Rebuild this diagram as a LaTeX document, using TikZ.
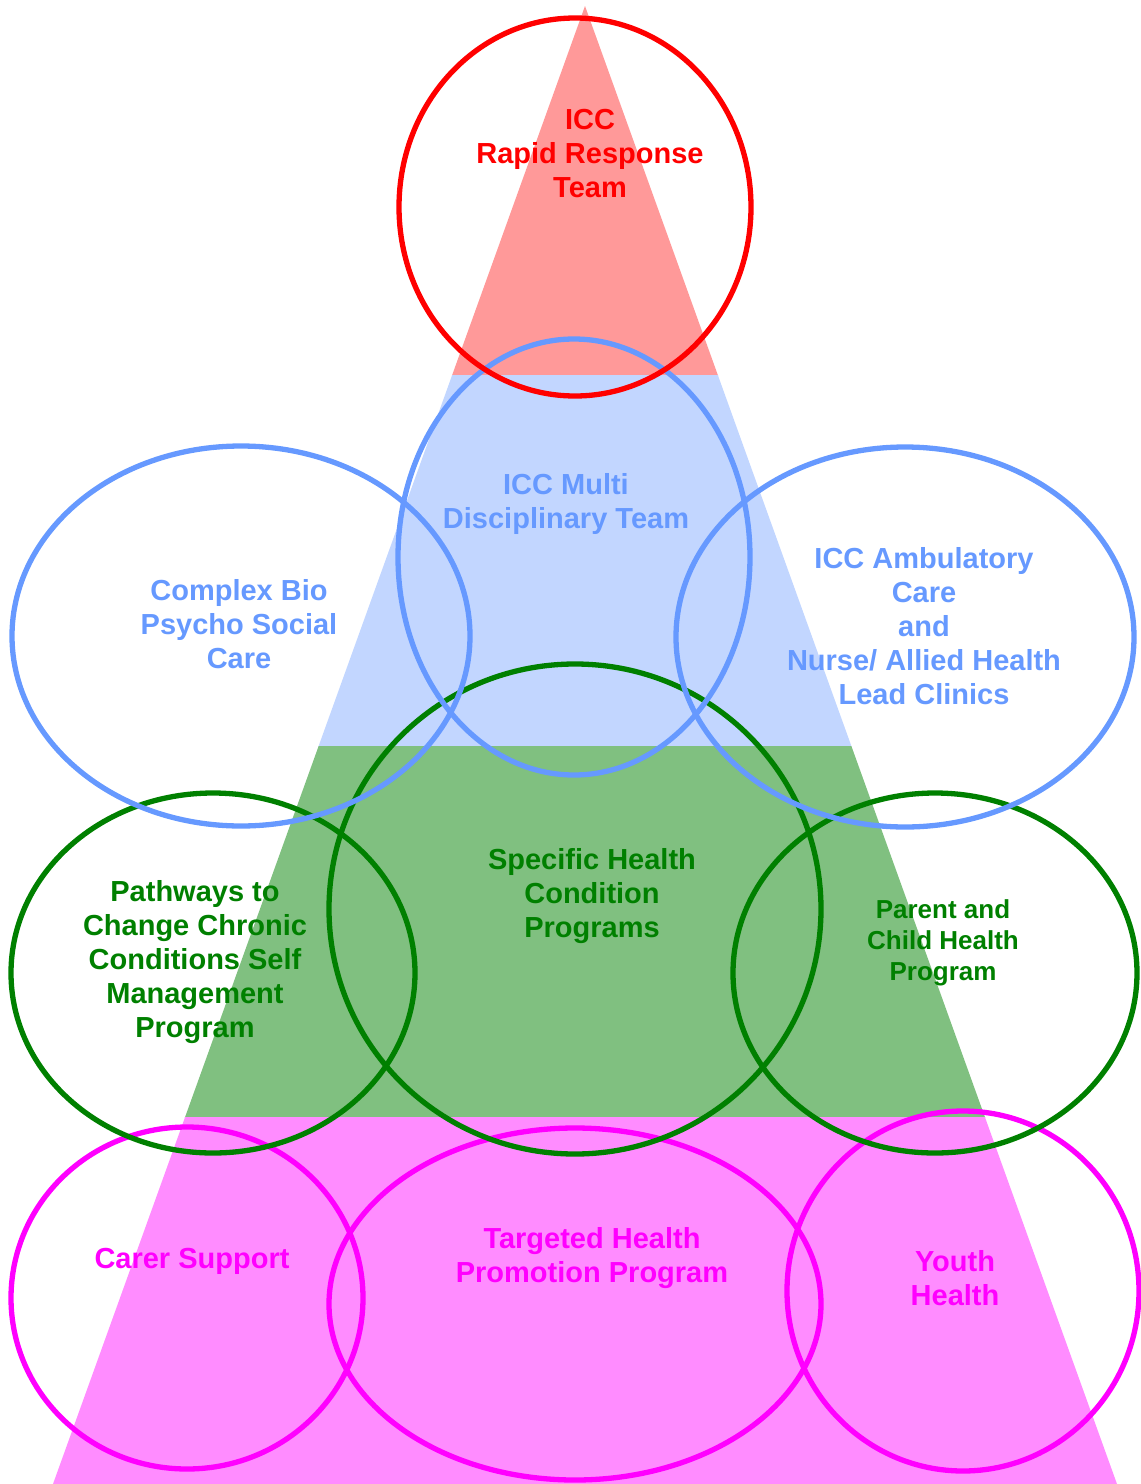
\documentclass[tikz,border=0pt]{standalone}
\usepackage{fontspec}
\setmainfont{Liberation Sans}
\definecolor{cred}{HTML}{FF0000}
\definecolor{cblue}{HTML}{6699FF}
\definecolor{cgreen}{HTML}{008000}
\definecolor{cmag}{HTML}{FF00FF}
\begin{document}
\begin{tikzpicture}[x=1pt,y=-1pt,
  ring/.style={line width=5.3pt},
  lbl/.style={align=center,font=\fontsize{29}{34}\selectfont\bfseries,inner sep=0pt},
  lblsmall/.style={align=center,font=\fontsize{26}{31}\selectfont\bfseries,inner sep=0pt}]
\useasboundingbox (0,0) rectangle (1141,1484);
% pyramid bands
\def\tri{(585,6) -- (1117,1484) -- (53,1484) -- cycle}
\begin{scope}
\clip (0,0) rectangle (1141,375);
\fill[cred!40] \tri;
\end{scope}
\begin{scope}
\clip (0,375) rectangle (1141,746);
\fill[cblue!40] \tri;
\end{scope}
\begin{scope}
\clip (0,746) rectangle (1141,1117);
\fill[cgreen!50] \tri;
\end{scope}
\begin{scope}
\clip (0,1117) rectangle (1141,1484);
\fill[cmag!45] \tri;
\end{scope}
% ellipses
\draw[ring,cmag] (187,1298) ellipse [x radius=176, y radius=171];
\draw[ring,cmag] (575,1304) ellipse [x radius=246, y radius=176];
\draw[ring,cmag] (963,1291) ellipse [x radius=176, y radius=180];
\draw[ring,cgreen] (213,973) ellipse [x radius=202, y radius=180];
\draw[ring,cgreen] (935,973) ellipse [x radius=202, y radius=180];
\draw[ring,cgreen] (575,909) ellipse [x radius=246, y radius=245];
\draw[ring,cblue] (241,636) ellipse [x radius=229, y radius=190];
\draw[ring,cblue] (905,637) ellipse [x radius=229, y radius=190];
\draw[ring,cblue] (574,557) ellipse [x radius=176, y radius=218];
\draw[ring,cred] (575,207) ellipse [x radius=176, y radius=189];
% labels
\node[lbl,text=cred] (rrt) at (590,154) {ICC\\Rapid Response\\Team};
\node[lbl,text=cblue] (mdt) at (566,504) {ICC Multi\\Disciplinary Team};
\node[lbl,text=cblue] (bps) at (239,624) {Complex Bio\\Psycho Social\\Care};
\node[lbl,text=cblue] (amb) at (924,626) {ICC Ambulatory\\Care\\and\\Nurse/ Allied Health\\Lead Clinics};
\node[lbl,text=cgreen] (shc) at (592,896) {Specific Health\\Condition\\Programs};
\node[lbl,text=cgreen] (ptc) at (195,962) {Pathways to\\Change Chronic\\Conditions Self\\Management\\Program};
\node[lblsmall,text=cgreen] (pch) at (943,943) {Parent and\\Child Health\\Program};
\node[lbl,text=cmag] (cs) at (192,1261) {Carer Support};
\node[lbl,text=cmag] (thp) at (592,1258) {Targeted Health\\Promotion Program};
\node[lbl,text=cmag] (yh) at (955,1278) {Youth\\Health};
\end{tikzpicture}
\end{document}
